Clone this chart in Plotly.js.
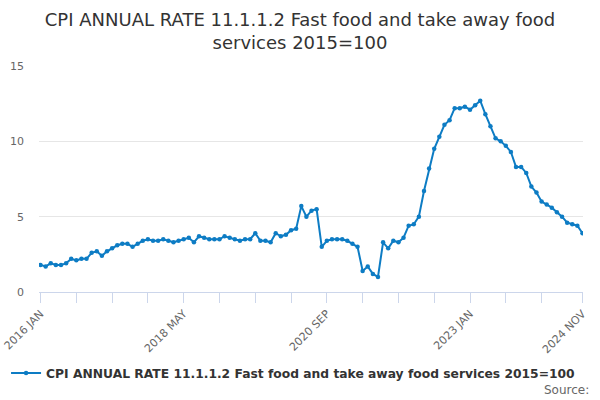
<!DOCTYPE html>
<html>
<head>
<meta charset="utf-8">
<script src="https://cdn.plot.ly/plotly-3.0.1.min.js"></script>
<style>html,body{margin:0;padding:0;background:#fff;}#chart{width:600px;height:400px;}</style>
</head>
<body>
<div id="chart"></div>
<script>
var monthNames = ["JAN","FEB","MAR","APR","MAY","JUN","JUL","AUG","SEP","OCT","NOV","DEC"];
var startYear = 2016;
var seriesName = "CPI ANNUAL RATE 11.1.1.2 Fast food and take away food services 2015=100";
var values = [
  1.8, 1.7, 1.9, 1.8, 1.8, 1.9, 2.2, 2.1, 2.2, 2.2,
  2.6, 2.7, 2.4, 2.7, 2.9, 3.1, 3.2, 3.2, 3.0, 3.2,
  3.4, 3.5, 3.4, 3.4, 3.5, 3.4, 3.3, 3.4, 3.5, 3.6,
  3.3, 3.7, 3.6, 3.5, 3.5, 3.5, 3.7, 3.6, 3.5, 3.4,
  3.5, 3.5, 3.9, 3.4, 3.4, 3.3, 3.9, 3.7, 3.8, 4.1,
  4.2, 5.7, 5.0, 5.4, 5.5, 3.0, 3.4, 3.5, 3.5, 3.5,
  3.4, 3.2, 3.0, 1.4, 1.7, 1.2, 1.0, 3.3, 2.9, 3.4,
  3.3, 3.6, 4.4, 4.5, 5.0, 6.7, 8.2, 9.5, 10.3, 11.1,
  11.4, 12.2, 12.2, 12.3, 12.1, 12.4, 12.7, 11.8, 11.0, 10.2,
  10.0, 9.7, 9.3, 8.3, 8.3, 7.9, 7.0, 6.6, 6.0, 5.8,
  5.6, 5.3, 5.0, 4.6, 4.5, 4.4, 3.9
];
var categories = values.map(function(v, i){
  return (startYear + Math.floor(i/12)) + " " + monthNames[i % 12];
});
var tickIndex = [0,7,14,21,28,35,42,49,56,63,70,77,84,91,98,106];
var labelledTicks = ["2016 JAN","2018 MAY","2020 SEP","2023 JAN","2024 NOV"];
var tickvals = tickIndex.map(function(i){ return categories[i]; });
var ticktext = tickvals.map(function(c){ return labelledTicks.indexOf(c) >= 0 ? c : ""; });

var font = "DejaVu Sans, Verdana, sans-serif";
var color = "#0d7cc4";

Plotly.newPlot("chart", [{
  type: "scatter",
  mode: "lines+markers",
  x: categories,
  y: values,
  name: seriesName,
  line: {color: color, width: 2},
  marker: {color: color, size: 4.5},
  hoverinfo: "x+y"
}], {
  width: 600, height: 400,
  paper_bgcolor: "#fff", plot_bgcolor: "#fff",
  margin: {l: 39, r: 17, t: 66, b: 108, autoexpand: false},
  title: {
    text: "CPI ANNUAL RATE 11.1.1.2 Fast food and take away food<br>services 2015=100",
    font: {family: font, size: 18, color: "#333333"},
    x: 0.5, xanchor: "center", y: 0.935, yanchor: "top", yref: "container"
  },
  xaxis: {
    type: "category",
    range: [-0.3, 106.1],
    tickmode: "array", tickvals: tickvals, ticktext: ticktext,
    tickangle: -45,
    ticks: "outside", ticklen: 10, tickcolor: "#ccd6eb", tickwidth: 1,
    showline: true, linecolor: "#ccd6eb", linewidth: 1,
    showgrid: false, zeroline: false,
    tickfont: {family: font, size: 11, color: "#666666"}
  },
  yaxis: {
    range: [0, 15],
    tickvals: [0, 5, 10, 15],
    showgrid: true, gridcolor: "#e6e6e6", gridwidth: 1,
    zeroline: false, showline: false,
    ticks: "", ticklabelstandoff: 14,
    tickfont: {family: font, size: 11, color: "#666666"}
  },
  showlegend: true,
  legend: {
    orientation: "h", x: 0.467, xanchor: "center", y: -81/226, yref: "paper",
    yanchor: "middle",
    font: {family: font, size: 12.3, color: "#333333", weight: "bold"}
  },
  annotations: [{
    text: "Source:", xref: "paper", yref: "paper",
    x: 1.015, xanchor: "right", y: -(390 - 292) / 226, yanchor: "middle",
    showarrow: false, font: {family: font, size: 12, color: "#666666"}
  }]
}, {displayModeBar: false});
</script>
</body>
</html>
